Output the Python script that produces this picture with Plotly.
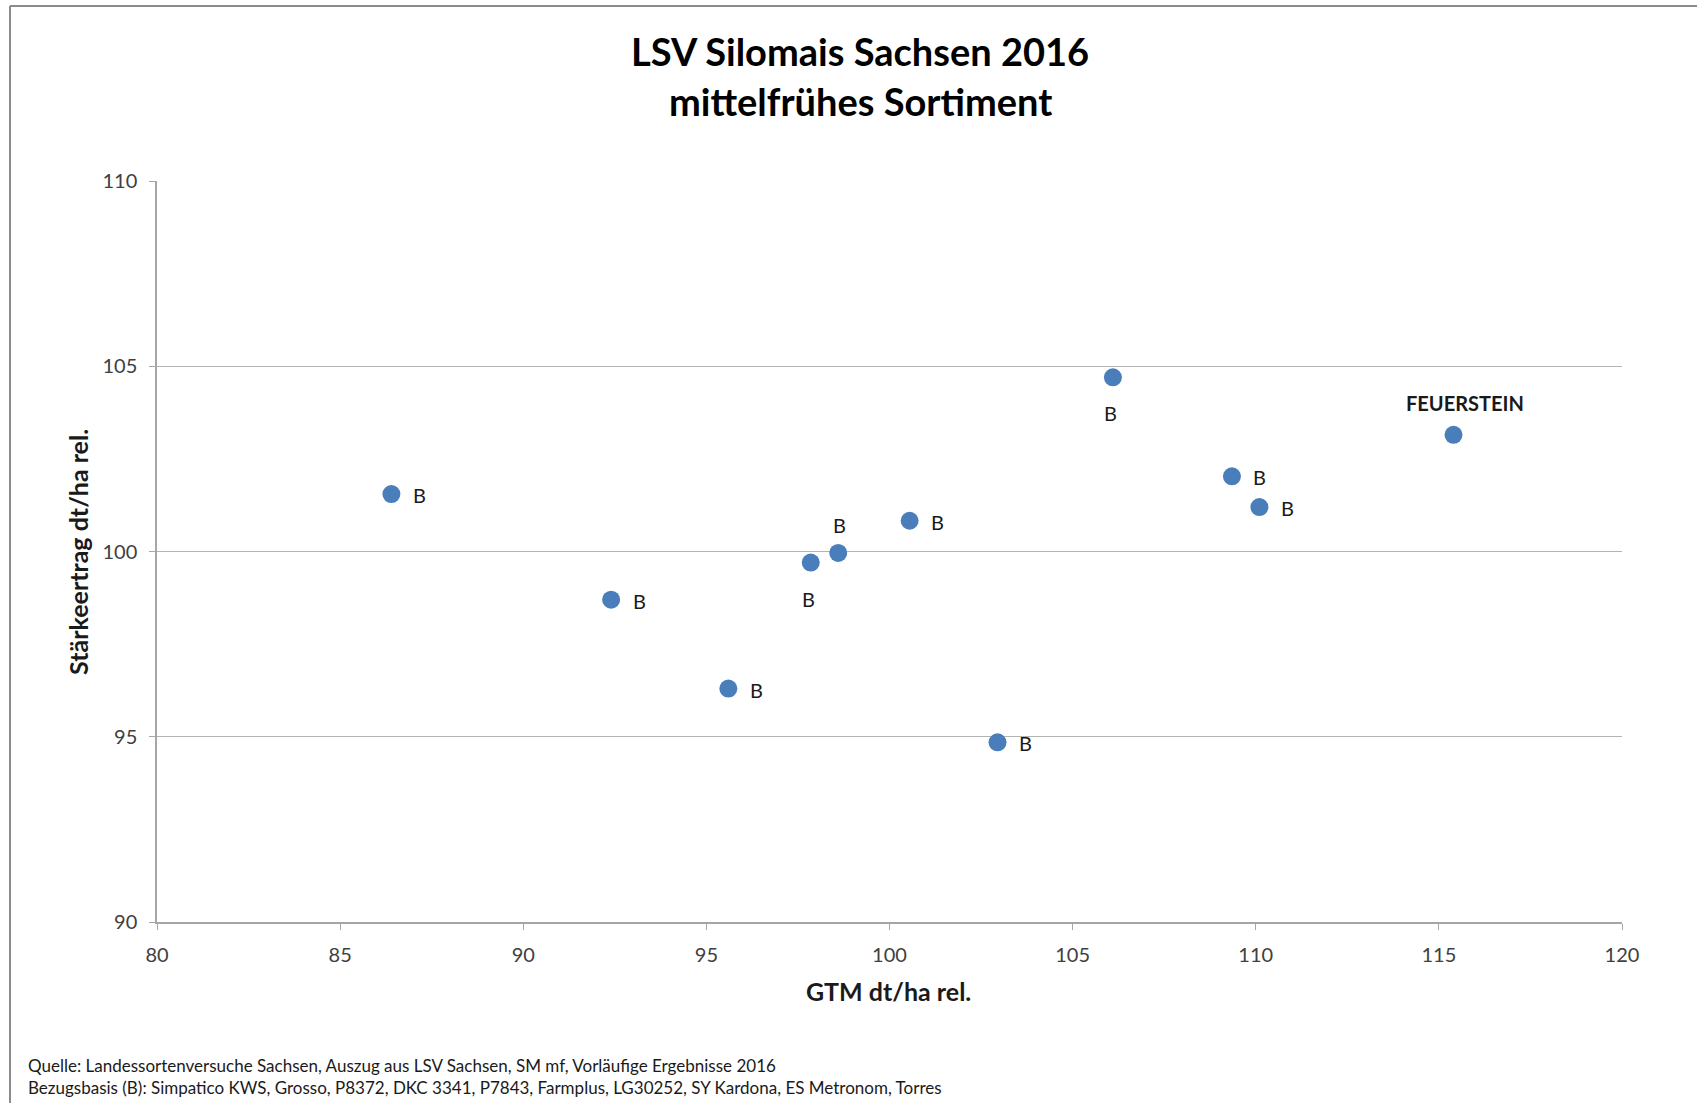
import plotly.graph_objects as go

# Relative yields of the mid-early silage maize varieties (LSV Sachsen 2016)
gtm_rel = [86.4, 92.4, 95.6, 97.85, 98.6, 100.55, 102.95, 106.1, 109.35, 110.1, 115.4]
staerke_rel = [101.55, 98.7, 96.3, 99.7, 99.96, 100.83, 94.85, 104.7, 102.03, 101.2, 103.15]
sorte_label = ["B", "B", "B", "B", "B", "B", "B", "B", "B", "B", "FEUERSTEIN"]

x_ticks = [80, 85, 90, 95, 100, 105, 110, 115, 120]
y_ticks = [90, 95, 100, 105, 110]

title_lines = ["LSV Silomais Sachsen 2016", "mittelfrühes Sortiment"]
x_title = "GTM dt/ha rel."
y_title = "Stärkeertrag dt/ha rel."
footer_lines = [
    "Quelle: Landessortenversuche Sachsen, Auszug aus LSV Sachsen, SM mf, Vorläufige Ergebnisse 2016",
    "Bezugsbasis (B): Simpatico KWS, Grosso, P8372, DKC 3341, P7843, Farmplus, LG30252, SY Kardona, ES Metronom, Torres",
]

# where each point label sits relative to its marker
label_side = ["right", "right", "right", "below", "above", "right",
              "right", "below", "right", "right", "above"]

FONT = "Lato"
W, H = 1697, 1103
L, R, T, B = 157, 75, 181, 181
plot_w = W - L - R
plot_h = H - T - B


def px_to_paper_x(px):
    return (px - L) / plot_w


def px_to_paper_y(py):
    return (H - B - py) / plot_h


fig = go.Figure()
fig.add_trace(go.Scatter(
    x=gtm_rel,
    y=staerke_rel,
    mode="markers",
    marker=dict(size=18, color="#4a7ebb", line=dict(width=0)),
    hoverinfo="x+y",
    showlegend=False,
))

shifts = {"right": (28, -1), "below": (-2, -36), "above": (1, 28)}
annotations = []
for gx, sy, lab, side in zip(gtm_rel, staerke_rel, sorte_label, label_side):
    dx, dy = shifts[side]
    bold = lab != "B"
    if bold:
        dx = 11
        dy = 32
    annotations.append(dict(
        x=gx, y=sy, xref="x", yref="y",
        text=f"<b>{lab}</b>" if bold else lab,
        showarrow=False, xanchor="center", yanchor="middle",
        xshift=dx, yshift=dy,
        font=dict(family=FONT, size=20, color="#1a1a1a"),
    ))

# chart title
for i, line in enumerate(title_lines):
    annotations.append(dict(
        x=px_to_paper_x(860), y=px_to_paper_y(51 + 50 * i),
        xref="paper", yref="paper", xanchor="center", yanchor="middle",
        text=f"<b>{line}</b>", showarrow=False,
        font=dict(family=FONT, size=38, color="#000000"),
    ))

# axis titles
annotations.append(dict(
    x=px_to_paper_x(888), y=px_to_paper_y(991), xref="paper", yref="paper",
    xanchor="center", yanchor="middle", text=f"<b>{x_title}</b>", showarrow=False,
    font=dict(family=FONT, size=25, color="#1a1a1a"),
))
annotations.append(dict(
    x=px_to_paper_x(78), y=px_to_paper_y(552), xref="paper", yref="paper",
    xanchor="center", yanchor="middle", text=f"<b>{y_title}</b>", showarrow=False,
    textangle=-90, font=dict(family=FONT, size=25, color="#1a1a1a"),
))

# source notes
for i, line in enumerate(footer_lines):
    annotations.append(dict(
        x=px_to_paper_x(26), y=px_to_paper_y(1065 + 22 * i), xref="paper", yref="paper",
        xanchor="left", yanchor="middle", text=line, showarrow=False,
        font=dict(family=FONT, size=17, color="#1a1a1a"),
    ))

# outer chart frame (top and left edges)
frame_color = "#8c8c8c"
shapes = [
    dict(type="line", xref="paper", yref="paper",
         x0=px_to_paper_x(10), x1=px_to_paper_x(W + 20),
         y0=px_to_paper_y(6), y1=px_to_paper_y(6),
         line=dict(color=frame_color, width=2)),
    dict(type="line", xref="paper", yref="paper",
         x0=px_to_paper_x(10), x1=px_to_paper_x(10),
         y0=px_to_paper_y(6), y1=px_to_paper_y(H + 20),
         line=dict(color=frame_color, width=2)),
]

axis_common = dict(
    zeroline=False,
    showline=True, linecolor="#a6a6a6", linewidth=1.5,
    ticks="outside", ticklen=6, tickcolor="#a6a6a6", tickwidth=1,
    ticklabelstandoff=8,
    tickfont=dict(family=FONT, size=20, color="#404040"),
)

fig.update_layout(
    width=W, height=H, autosize=False,
    margin=dict(l=L, r=R, t=T, b=B, pad=0),
    paper_bgcolor="white", plot_bgcolor="white",
    xaxis=dict(range=[80, 120], tickvals=x_ticks, showgrid=False, **axis_common),
    yaxis=dict(range=[90, 110], tickvals=y_ticks, showgrid=True,
               gridcolor="#b3b3b3", gridwidth=1.2, **axis_common),
    annotations=annotations,
    shapes=shapes,
)

fig.write_html("out.html")
